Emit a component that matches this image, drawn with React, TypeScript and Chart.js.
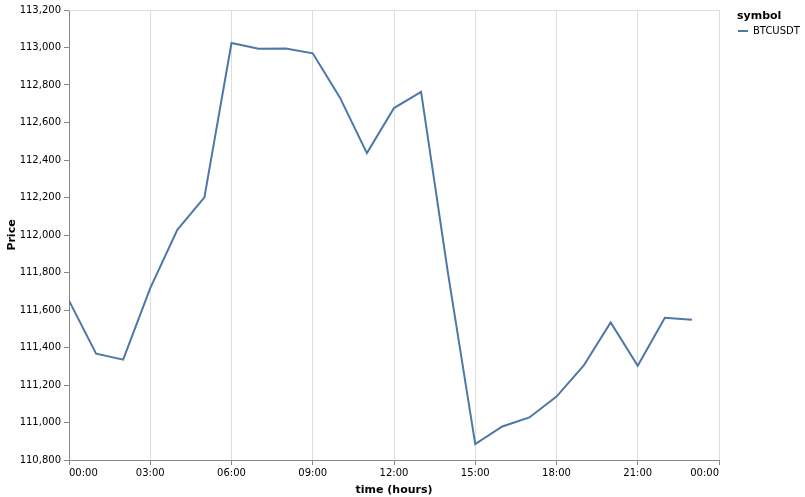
import React, { useEffect, useRef } from "react";
import { Chart, registerables } from "chart.js";

Chart.register(...registerables);

const hours: number[] = [0, 1, 2, 3, 4, 5, 6, 7, 8, 9, 10, 11, 12, 13, 14, 15, 16, 17, 18, 19, 20, 21, 22, 23];
const prices: number[] = [
  111650, 111367, 111335, 111717, 112028, 112201, 113024, 112994, 112995, 112969,
  112734, 112437, 112677, 112763, 111790, 110885, 110979, 111027, 111138, 111303,
  111534, 111303, 111559, 111548,
];
const seriesName = "BTCUSDT";
const legendTitle = "symbol";
const xTitle = "time (hours)";
const yTitle = "Price";
const yMin = 110800;
const yMax = 113200;
const yStep = 200;
const xMin = 0;
const xMax = 24;
const xStep = 3;

const FONT = "'DejaVu Sans', sans-serif";
const LINE_COLOR = "#4c78a8";

const framePlugin = {
  id: "frame",
  beforeDatasetsDraw(chart: any) {
    const { ctx, chartArea } = chart;
    ctx.save();
    ctx.strokeStyle = "#ddd";
    ctx.lineWidth = 1;
    ctx.beginPath();
    ctx.moveTo(chartArea.left, chartArea.top + 0.5);
    ctx.lineTo(chartArea.right, chartArea.top + 0.5);
    ctx.stroke();
    ctx.restore();
  },
  afterDraw(chart: any) {
    const { ctx, chartArea } = chart;
    ctx.save();
    const lx = chartArea.right + 18;
    ctx.fillStyle = "#000";
    ctx.font = `bold 11px ${FONT}`;
    ctx.textAlign = "left";
    ctx.textBaseline = "alphabetic";
    ctx.fillText(legendTitle, lx, chartArea.top + 9);
    ctx.strokeStyle = LINE_COLOR;
    ctx.lineWidth = 2;
    ctx.beginPath();
    ctx.moveTo(lx + 1, chartArea.top + 21);
    ctx.lineTo(lx + 11, chartArea.top + 21);
    ctx.stroke();
    ctx.font = `10px ${FONT}`;
    ctx.textBaseline = "middle";
    ctx.fillText(seriesName, lx + 16, chartArea.top + 21);
    ctx.restore();
  },
};

function fmtHour(v: number): string {
  const h = ((Math.round(v) % 24) + 24) % 24;
  return (h < 10 ? "0" : "") + h + ":00";
}

export default function App() {
  const ref = useRef<HTMLCanvasElement | null>(null);
  useEffect(() => {
    document.body.style.margin = "0";
    const canvas = ref.current!;
    const chart = new Chart(canvas, {
      type: "line",
      data: {
        datasets: [
          {
            label: seriesName,
            data: hours.map((h, i) => ({ x: h, y: prices[i] })),
            borderColor: LINE_COLOR,
            borderWidth: 2,
            pointRadius: 0,
            tension: 0,
            fill: false,
          },
        ],
      },
      options: {
        animation: false,
        responsive: false,
        maintainAspectRatio: false,
        layout: { padding: { top: 10, right: 86, left: 0, bottom: 0 } },
        plugins: { legend: { display: false }, tooltip: { enabled: false } },
        scales: {
          x: {
            type: "linear",
            min: xMin,
            max: xMax,
            afterFit(scale: any) {
              scale.height = 37;
            },
            ticks: {
              stepSize: xStep,
              autoSkip: false,
              maxRotation: 0,
              align: "inner",
              padding: 2,
              color: "#000",
              font: { family: FONT, size: 10 },
              callback: (v: any) => fmtHour(Number(v)),
            },
            grid: { color: "#ddd", tickLength: 5, tickColor: "#888", lineWidth: 1 },
            border: { color: "#888", width: 1 },
            title: {
              display: true,
              text: xTitle,
              color: "#000",
              font: { family: FONT, size: 11, weight: "bold" },
              padding: { top: 0, bottom: 0 },
            },
          },
          y: {
            type: "linear",
            min: yMin,
            max: yMax,
            afterFit(scale: any) {
              scale.width = 69;
            },
            ticks: {
              stepSize: yStep,
              padding: 3,
              color: "#000",
              font: { family: FONT, size: 10 },
              callback: (v: any) => Number(v).toLocaleString("en-US"),
            },
            grid: { drawOnChartArea: false, tickLength: 5, tickColor: "#888" },
            border: { color: "#888", width: 1 },
            title: {
              display: true,
              text: yTitle,
              color: "#000",
              font: { family: FONT, size: 11, weight: "bold" },
              padding: { top: 6, bottom: 0 },
            },
          },
        },
      },
      plugins: [framePlugin],
    } as any);
    return () => chart.destroy();
  }, []);
  return (
    <div style={{ position: "fixed", left: 0, top: 0, width: 805, height: 497, background: "#fff" }}>
      <canvas ref={ref} width={805} height={497} style={{ width: 805, height: 497, display: "block" }} />
    </div>
  );
}
